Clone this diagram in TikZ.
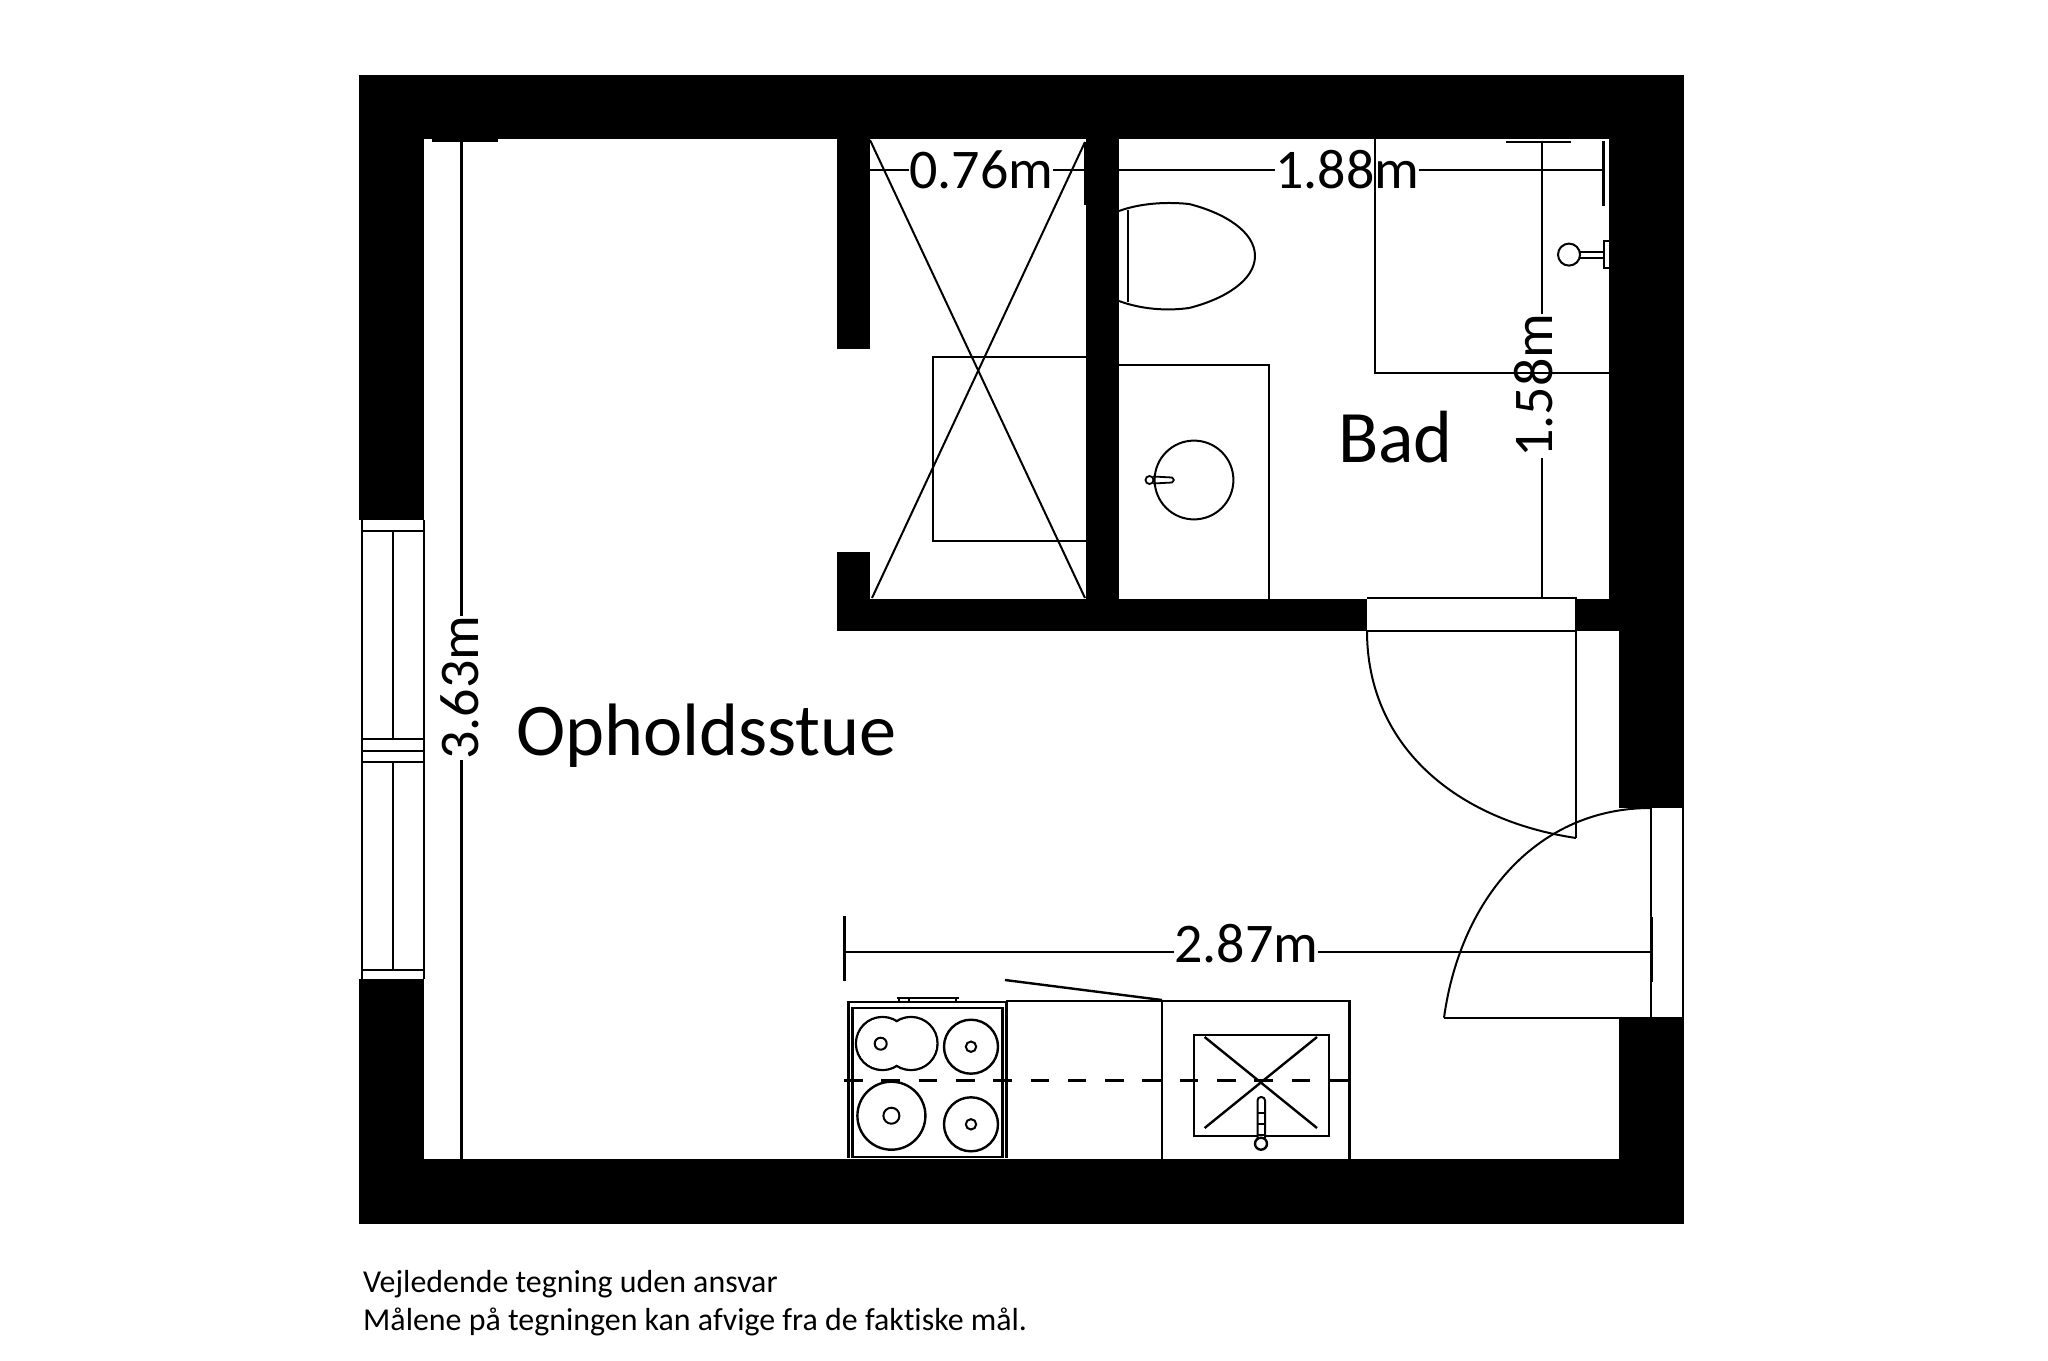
\documentclass[tikz,border=0pt]{standalone}
\usepackage{fontspec}
\setmainfont[Ligatures=NoCommon]{Carlito}
\tikzset{
  wall/.style={fill=black,draw=none},
  thinline/.style={draw=black,line width=2pt,line join=miter},
  kline/.style={draw=black,line width=2.4pt},
  dimline/.style={draw=black,line width=2.2pt},
  dimtext/.style={inner sep=0pt,anchor=base west,font=\fontsize{56}{60}\selectfont},
  roomtext/.style={inner sep=0pt,anchor=base west,font=\fontsize{74.3}{80}\selectfont},
  foot/.style={inner sep=0pt,anchor=base west,font=\fontsize{31.9}{36}\selectfont}
}
\begin{document}
\begin{tikzpicture}[x=1pt,y=-1pt]
\useasboundingbox (0,0) rectangle (2048,1360);
\fill[white] (0,0) rectangle (2048,1360);
% walls
\fill[wall] (359,74.5) rectangle (1684,139);
\fill[wall] (359,74.5) rectangle (424,520);
\fill[wall] (359,979) rectangle (424,1224);
\fill[wall] (359,1158.6) rectangle (1684,1224);
\fill[wall] (1609,74.5) rectangle (1684,631);
\fill[wall] (1575,599) rectangle (1684,631);
\fill[wall] (1619,631) rectangle (1684,808);
\fill[wall] (1619,1017) rectangle (1684,1224);
\fill[wall] (837,139) rectangle (870,349);
\fill[wall] (837,552) rectangle (870,631);
\fill[wall] (837,599) rectangle (1367,631);
\fill[wall] (1086,139) rectangle (1118.5,631);
% left window
\draw[thinline] (361.5,520) -- (361.5,979);
\draw[thinline] (423.5,520) -- (423.5,979);
\draw[thinline] (361,531) -- (424,531);
\draw[thinline] (361,738.6) -- (424,738.6);
\draw[thinline] (361,750.7) -- (424,750.7);
\draw[thinline] (361,762) -- (424,762);
\draw[thinline] (361,969.7) -- (424,969.7);
\draw[thinline] (393,531) -- (393,738.6);
\draw[thinline] (393,762) -- (393,969.7);
% closet
\draw[thinline] (870,140) -- (1085,598);
\draw[thinline] (1085,142) -- (872,598);
\draw[thinline] (1086,357) -- (933,357) -- (933,540.7) -- (1086,540.7);
% toilet
\draw[thinline] (1119,211) .. controls (1135,205) and (1160,201) .. (1189,204)
  .. controls (1225,213) and (1255,232) .. (1255,256)
  .. controls (1255,280) and (1225,299) .. (1189,308)
  .. controls (1160,312) and (1135,307) .. (1119,301);
\draw[thinline] (1128,210) -- (1128,302);
% basin
\draw[thinline] (1118.5,365) -- (1268.5,365) -- (1268.5,599);
\draw[thinline] (1194,480) circle[radius=39.4pt];
\draw[thinline,line width=1.8pt] (1149.5,480) circle[radius=4pt];
\draw[thinline,line width=1.8pt,line join=round] (1153,476.5) -- (1172,477.5) -- (1174,480) -- (1172,482.5) -- (1153,483.5);
% bath shower
\draw[thinline] (1375,139) -- (1375,373) -- (1609,373);
\draw[thinline] (1569,254.6) circle[radius=11pt];
\draw[thinline] (1580,252) -- (1604,252);
\draw[thinline] (1580,257.5) -- (1604,257.5);
\draw[thinline] (1609,241) -- (1604,241) -- (1604,268) -- (1609,268);
% inner door
\draw[thinline] (1367,598) -- (1575,598);
\draw[thinline] (1367,631) -- (1576,631) -- (1576,838);
\draw[thinline] (1576,838) .. controls (1455,820) and (1367,745) .. (1367,631);
% entrance door
\draw[thinline] (1650.5,808) -- (1650.5,1017.7) -- (1444,1017.7);
\draw[thinline] (1682.7,808) -- (1682.7,1017);
\draw[thinline] (1444,1017.7) .. controls (1461,895) and (1540,808) .. (1650.5,808);
% dimensions
\node[roomtext] (room1) at (516,755) {Opholdsstue};
\node[inner sep=0pt,anchor=base west,font=\fontsize{74}{80}\selectfont] (room2) at (1338,462.5) {Bad};
\node[dimtext] (d076) at (909,188) {0.76m};
\node[dimtext] (d188) at (1275,188) {1.88m};
\node[dimtext] (d287) at (1174,962.5) {2.87m};
\node[dimtext,rotate=90] (d158) at (1552,458) {1.58m};
\node[dimtext,rotate=90] (d363) at (478,760) {3.63m};
\coordinate (a1) at (870,170);
\coordinate (a2) at (1086,170);
\draw[dimline] (a1) -- (d076.base west |- a1);
\draw[dimline] (d076.base east |- a1) -- (a2);
\draw[line width=3pt] (1085,142) -- (1085,205);
\coordinate (b1) at (1118.5,170);
\coordinate (b2) at (1603,170);
\draw[dimline] (b1) -- (d188.base west |- b1);
\draw[dimline] (d188.base east |- b1) -- (b2);
\draw[line width=3pt] (1603,141) -- (1603,206);
\coordinate (c1) at (844,952);
\coordinate (c2) at (1651,952);
\draw[dimline] (c1) -- (d287.base west |- c1);
\draw[dimline] (d287.base east |- c1) -- (c2);
\draw[line width=3pt] (844,916) -- (844,981);
\draw[line width=3pt] (1651.5,917) -- (1651.5,982);
\coordinate (e1) at (1541.7,142);
\coordinate (e2) at (1541.7,598);
\draw[dimline] (e1) -- (e1 |- d158.base east);
\draw[dimline] (e1 |- d158.base west) -- (e2);
\draw[line width=2.4pt] (1506,142) -- (1571,142);
\draw[line width=2.4pt] (1506,598) -- (1577,598);
\coordinate (f1) at (461.5,139);
\coordinate (f2) at (461.5,1158.6);
\draw[dimline] (f1) -- (f1 |- d363.base east);
\draw[dimline] (f1 |- d363.base west) -- (f2);
\draw[line width=2.5pt] (432,140.5) -- (498,140.5);
% kitchen
\draw[kline] (848.6,1158) -- (848.6,1002) -- (1006.4,1002) -- (1006.4,1158);
\draw[kline] (852.5,1008) rectangle (1002.5,1156.7);
\draw[kline] (1006.4,1001) -- (1349.6,1001) -- (1349.6,1158.6);
\draw[kline] (1162,1001) -- (1162,1158.6);
\draw[kline] (1005,980) -- (1162,1000);
\draw[thinline] (897,997.5) -- (959,997.5);
\draw[thinline] (899,997.5) -- (899,1002);
\draw[thinline] (908.6,997.5) -- (908.6,1002);
\draw[thinline] (956,997.5) -- (956,1002);
\draw[kline,fill=white] (882.5,1043.5) circle[radius=26.5pt];
\draw[kline,fill=white] (911,1043.5) circle[radius=26.5pt];
\fill[white] (882.5,1043.5) circle[radius=25.3pt];
\fill[white] (911,1043.5) circle[radius=25.3pt];
\draw[thinline] (880.7,1043.7) circle[radius=6pt];
\draw[kline] (971,1046.7) circle[radius=27pt];
\draw[thinline] (971,1046.7) circle[radius=5.2pt];
\draw[kline] (891.4,1115.7) circle[radius=34pt];
\draw[thinline] (891.4,1115.7) circle[radius=8pt];
\draw[kline] (971,1124.3) circle[radius=27pt];
\draw[thinline] (971,1124.3) circle[radius=5.2pt];
\draw[thinline,line width=2.5pt,dash pattern=on 18.6pt off 18.7pt] (844,1080.7) -- (1349,1080.7);
\draw[kline] (1194,1035) rectangle (1329,1135.7);
\draw[kline] (1204.6,1037) -- (1317,1128);
\draw[kline] (1317,1037) -- (1204.6,1128);
\draw[thinline,fill=white,rounded corners=3.5pt] (1257.5,1138) -- (1257.5,1097) -- (1265,1097) -- (1265,1138);
\draw[thinline] (1257.5,1113) -- (1265,1113);
\draw[thinline] (1257.5,1124) -- (1265,1124);
\draw[thinline] (1257.5,1135) -- (1265,1135);
\draw[kline,fill=white] (1261,1143.7) circle[radius=6pt];
% footer
\node[foot] (n1) at (363,1292.7) {Vejledende tegning uden ansvar};
\node[foot] (n2) at (363,1330) {Målene på tegningen kan afvige fra de faktiske mål.};
\end{tikzpicture}
\end{document}
